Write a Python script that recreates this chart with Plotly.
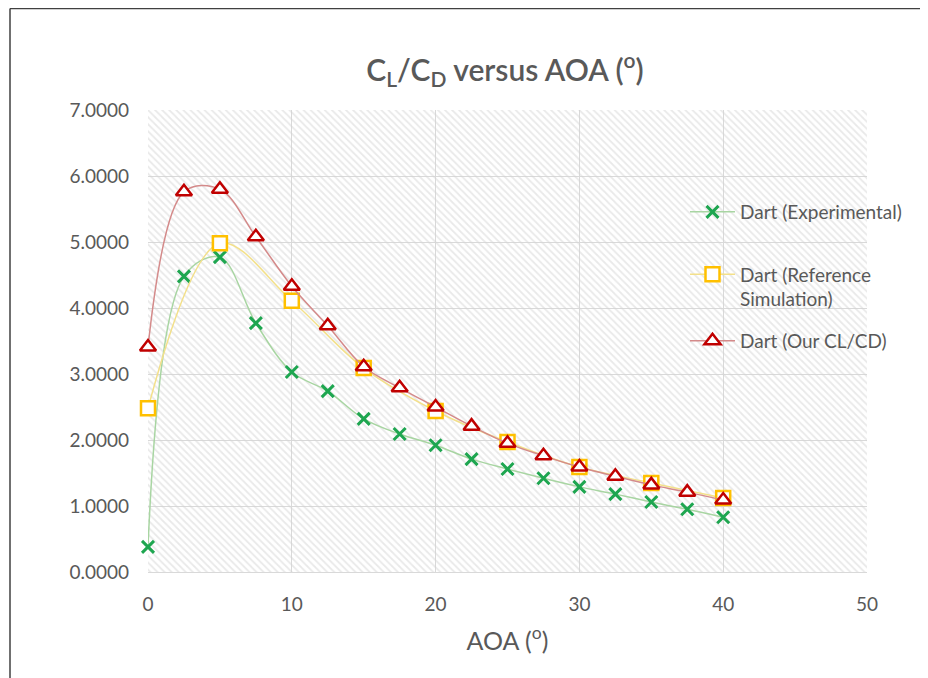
import plotly.graph_objects as go

# ---- data ----
aoa_exp = [0, 2.5, 5, 7.5, 10, 12.5, 15, 17.5, 20, 22.5, 25, 27.5, 30, 32.5, 35, 37.5, 40]
clcd_exp = [0.38, 4.48, 4.77, 3.77, 3.03, 2.74, 2.32, 2.09, 1.92, 1.71, 1.56, 1.42, 1.29, 1.18, 1.06, 0.95, 0.83]

aoa_ref = [0, 5, 10, 15, 20, 25, 30, 35, 40]
clcd_ref = [2.48, 4.98, 4.11, 3.09, 2.44, 1.97, 1.59, 1.35, 1.12]

aoa_our = [0, 2.5, 5, 7.5, 10, 12.5, 15, 17.5, 20, 22.5, 25, 27.5, 30, 32.5, 35, 37.5, 40]
clcd_our = [3.41, 5.76, 5.80, 5.08, 4.33, 3.73, 3.11, 2.79, 2.50, 2.21, 1.95, 1.76, 1.59, 1.45, 1.32, 1.21, 1.09]

names = ["Dart (Experimental)", "Dart (Reference<br>Simulation)", "Dart (Our CL/CD)"]
x_range = [0, 50]
y_range = [0, 7]

FONT = "Lato, 'Open Sans', sans-serif"
GRAY = "#595959"

# plot-area geometry (figure pixels)
L, R, T, B = 140, 859, 102, 564
W, H = 928, 678
PW, PH = R - L, B - T

fig = go.Figure()

# hatched plot-area background
fig.add_trace(go.Scatter(
    x=[x_range[0], x_range[1], x_range[1], x_range[0], x_range[0]],
    y=[y_range[0], y_range[0], y_range[1], y_range[1], y_range[0]],
    fill="toself", mode="none", fillcolor="rgba(0,0,0,0)",
    fillpattern=dict(shape="\\", fgcolor="#d4d4d4", bgcolor="rgba(255,255,255,0)",
                     size=5, solidity=0.35),
    showlegend=False, hoverinfo="skip",
))

fig.add_trace(go.Scatter(
    x=aoa_exp, y=clcd_exp, name=names[0], mode="lines+markers", cliponaxis=False,
    line=dict(shape="spline", smoothing=1.0, color="#a8d5a2", width=1.5),
    marker=dict(symbol="x-thin", size=12, line=dict(color="#1ea650", width=3)),
    legend="legend",
))
fig.add_trace(go.Scatter(
    x=aoa_ref, y=clcd_ref, name=names[1], mode="lines+markers", cliponaxis=False,
    line=dict(shape="spline", smoothing=1.0, color="#f3e08a", width=1.5),
    marker=dict(symbol="square", size=14, color="white",
                line=dict(color="#ffc000", width=2.5)),
    legend="legend2",
))
fig.add_trace(go.Scatter(
    x=aoa_our, y=clcd_our, name=names[2], mode="lines+markers", cliponaxis=False,
    line=dict(shape="spline", smoothing=1.0, color="#d48a8a", width=1.5),
    marker=dict(symbol="triangle-up", size=14, color="white",
                line=dict(color="#c00000", width=2.5)),
    legend="legend3",
))

def leg(y_fig):
    return dict(x=(677 - L) / PW, y=(B - y_fig) / PH, xanchor="left", yanchor="middle",
                bgcolor="rgba(0,0,0,0)", font=dict(size=19, color=GRAY, family=FONT),
                itemwidth=45, valign="top")

fig.update_layout(
    width=W, height=H,
    margin=dict(l=L, r=W - R, t=T, b=H - B),
    paper_bgcolor="white", plot_bgcolor="white",
    font=dict(family=FONT, color=GRAY, size=19),
    title=dict(text="C<sub>L</sub>/C<sub>D</sub> versus AOA (<sup>o</sup>)",
               x=497 / W, xanchor="center", y=1 - 62 / H, yanchor="middle",
               font=dict(size=30, color=GRAY, family=FONT, weight=600)),
    legend=leg(204),
    legend2=leg(279),
    legend3=leg(333),
    showlegend=True,
)
fig.update_xaxes(range=x_range, dtick=10, showgrid=True, gridcolor="#d9d9d9", gridwidth=1,
                 zeroline=False, showline=True, linecolor="#d9d9d9", ticks="",
                 tickfont=dict(size=19, color=GRAY), ticklabelstandoff=15,
                 title=dict(text="AOA (<sup>o</sup>)", font=dict(size=25, color=GRAY), standoff=18))
fig.update_yaxes(range=y_range, dtick=1, tickformat=".4f", showgrid=True, gridcolor="#d9d9d9",
                 gridwidth=1, zeroline=False, showline=False, ticks="",
                 tickfont=dict(size=19, color=GRAY), ticklabelstandoff=18)

# outer chart border (left and top edges visible)
fig.add_shape(type="line", xref="paper", yref="paper",
              x0=(2 - L) / PW, x1=(2 - L) / PW, y0=(B - (H + 20)) / PH, y1=(B - 0.5) / PH,
              line=dict(color="#404040", width=1.5), layer="below")
fig.add_shape(type="line", xref="paper", yref="paper",
              x0=(2 - L) / PW, x1=(W + 20 - L) / PW, y0=(B - 0.5) / PH, y1=(B - 0.5) / PH,
              line=dict(color="#404040", width=1.5), layer="below")

fig.write_html("out.html")
